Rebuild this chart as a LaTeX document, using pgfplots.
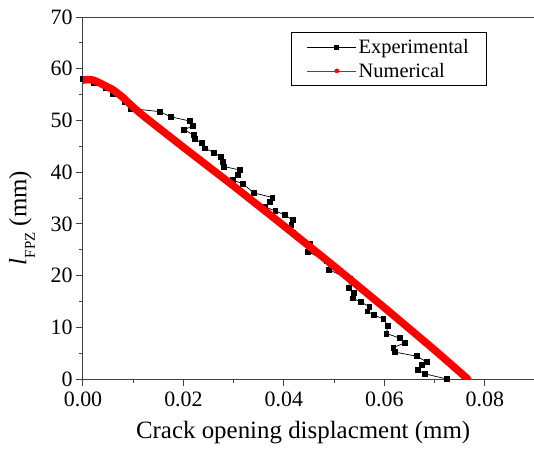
\documentclass[border=0pt]{standalone}
\usepackage{fontspec}
\setmainfont{Liberation Serif}
\usepackage{pgfplots}
\pgfplotsset{compat=1.18}
\begin{document}
\begin{tikzpicture}
\useasboundingbox (-83bp,-71bp) rectangle (451bp,379bp);
\begin{axis}[
  at={(0bp,0bp)}, anchor=south west,
  scale only axis, width=452bp, height=362bp,
  xmin=0, xmax=0.09, ymin=0, ymax=70,
  axis x line*=box, axis y line*=left,
  xtick={0,0.02,0.04,0.06,0.08}, minor x tick num=1,
  ytick={0,10,...,70}, minor y tick num=1,
  xtick pos=bottom, ytick pos=left,
  tick align=outside,
  major tick length=7bp, minor tick length=4bp,
  every tick/.style={black!75, line width=1bp},
  axis line style={black!75, line width=1bp, -},
  /pgf/number format/assume math mode=true,
  xticklabel style={font=\fontsize{22}{24}\selectfont, yshift=-2bp, /pgf/number format/.cd, fixed, fixed zerofill, precision=2},
  yticklabel style={font=\fontsize{22}{24}\selectfont},
  scaled x ticks=false,
  xlabel={Crack opening displacment (mm)},
  xlabel style={font=\fontsize{25}{28}\selectfont, at={(axis description cs:0.487,-0.163)}, anchor=base},
  ylabel={\textit{l}\raisebox{-0.35em}{\fontsize{15}{16}\selectfont FPZ} (mm)},
  ylabel style={font=\fontsize{25}{28}\selectfont, at={(axis description cs:-0.135,0.445)}, anchor=center},
  clip mode=individual,
  legend image code/.code={\path (0bp,0bp) -- (10bp,0bp); \draw[mark repeat=2,mark phase=2,#1] plot coordinates {(10bp,0bp) (29.5bp,0bp) (49bp,0bp)};},
  legend style={font=\fontsize{20.5}{22}\selectfont, draw=black, line width=0.8bp,
    at={(0.894,0.9586)}, anchor=north east, inner xsep=16bp, inner ysep=5bp, row sep=4bp},
  legend cell align=left,
]
\addlegendimage{black, line width=0.7bp, mark=square*, mark size=2bp}
\addlegendimage{red, line width=0.7bp, mark=*, mark size=2bp}
\legend{Experimental, Numerical}
\addplot[forget plot, black, line width=0.7bp, mark=square*, mark size=2.4bp] coordinates {
(0, 58.0) (0.0022, 57.2) (0.0045, 56.2) (0.0060, 55.2) (0.0084, 53.6) (0.0095, 52.3)
(0.0153, 51.7) (0.0175, 50.7) (0.0212, 49.9) (0.0218, 48.9) (0.0201, 48.2) (0.0220, 47.2)
(0.0223, 46.4) (0.0236, 45.6) (0.0243, 44.6) (0.0261, 43.8) (0.0275, 42.9) (0.0279, 42.0)
(0.0281, 41.1) (0.0312, 40.4) (0.0309, 39.5) (0.0298, 38.5) (0.0319, 37.7) (0.0340, 36.0)
(0.0377, 35.1) (0.0372, 34.3) (0.0362, 33.3) (0.0383, 32.5) (0.0402, 31.7) (0.0418, 30.7)
(0.0415, 29.8) (0.0418, 28.2) (0.0452, 26.2) (0.0448, 24.6) (0.0486, 22.8) (0.0490, 21.1)
(0.0531, 19.3) (0.0529, 17.6) (0.0539, 16.6) (0.0538, 15.6) (0.0553, 14.9) (0.0570, 14.0)
(0.0566, 13.1) (0.0579, 12.4) (0.0598, 11.6) (0.0607, 10.3) (0.0604, 8.8) (0.0631, 7.9)
(0.0641, 7.0) (0.0618, 6.1) (0.0621, 5.2) (0.0665, 4.4) (0.0684, 3.3) (0.0674, 2.7)
(0.0667, 1.7) (0.0681, 1.0) (0.0724, 0)
};
\addplot[forget plot, red, line width=7.5bp, line cap=round, line join=round, smooth, tension=0.3] coordinates {
(0,57.8) (0.001,57.9) (0.002,57.8) (0.003,57.4) (0.004,56.9) (0.006,55.9) (0.008,54.4)
(0.0095,53.0) (0.012,50.9) (0.02,44.8) (0.03,37.3) (0.04,29.6) (0.05,21.8) (0.06,13.8)
(0.07,5.6) (0.0766,0)
};
\end{axis}
\end{tikzpicture}
\end{document}
